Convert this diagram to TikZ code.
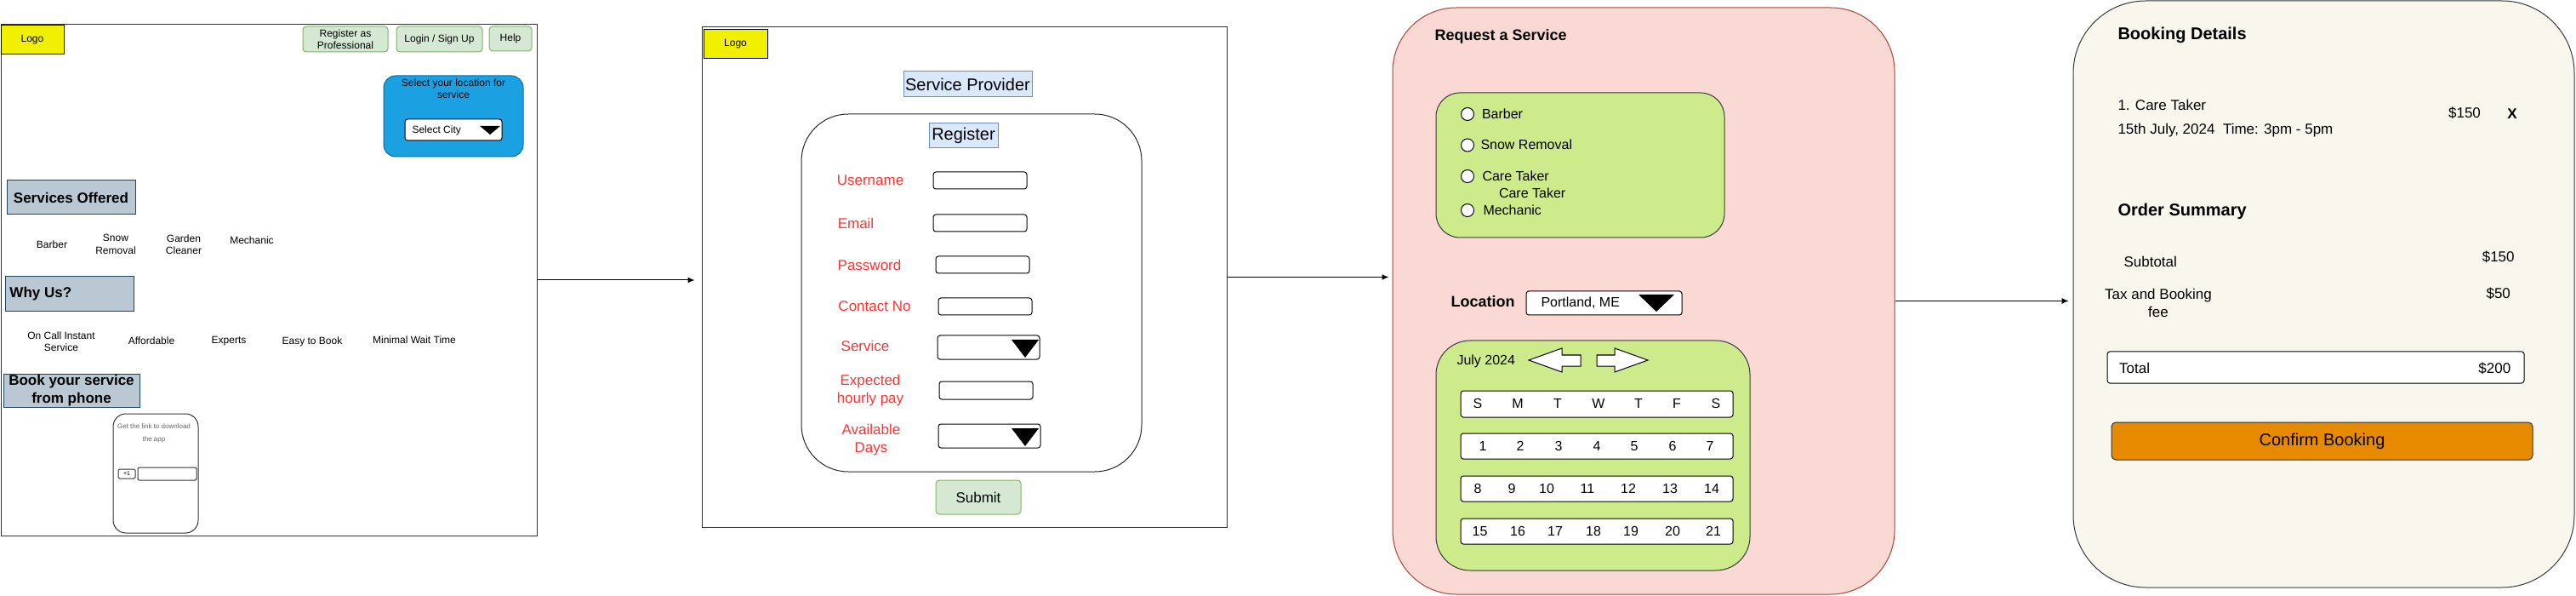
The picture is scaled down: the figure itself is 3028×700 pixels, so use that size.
\documentclass[tikz,border=0pt]{standalone}
\usepackage{fontspec}
\setmainfont{Liberation Sans}
\usetikzlibrary{arrows.meta}

\definecolor{logoyellow}{HTML}{F0F000}
\definecolor{btnfill}{HTML}{D5E8D4}
\definecolor{btnline}{HTML}{82B366}
\definecolor{locfill}{HTML}{1BA1E2}
\definecolor{locline}{HTML}{006EAF}
\definecolor{headfill}{HTML}{BAC8D3}
\definecolor{headline}{HTML}{23445D}
\definecolor{titlefill}{HTML}{DAE8FC}
\definecolor{titleline}{HTML}{6C8EBF}
\definecolor{pinkfill}{HTML}{FAD9D5}
\definecolor{pinkline}{HTML}{AE4132}
\definecolor{limefill}{HTML}{CDEB8B}
\definecolor{darkline}{HTML}{36393D}
\definecolor{creamfill}{HTML}{F9F7ED}
\definecolor{confirmfill}{HTML}{E88A00}
\definecolor{formred}{HTML}{FF3333}

\tikzset{
	f7/.style={font=\fontsize{7}{8.4}\selectfont},
	f8/.style={font=\fontsize{8}{15}\selectfont, text=black!60},
	f12/.style={font=\fontsize{12}{14.4}\selectfont},
	f16/.style={font=\fontsize{16}{19.2}\selectfont},
	f17/.style={font=\fontsize{17}{21}\selectfont},
	f20/.style={font=\fontsize{20}{24}\selectfont},
	b17/.style={font=\fontsize{17}{21}\bfseries\selectfont},
	b18/.style={font=\fontsize{18}{21.6}\bfseries\selectfont},
	b20/.style={font=\fontsize{20}{24}\bfseries\selectfont},
	redlabel/.style={f17, text=formred},
	panel/.style={draw=black!80},
	logobox/.style={draw, fill=logoyellow, f12},
	navbtn/.style={draw=btnline, fill=btnfill, rounded corners=4pt, f12},
	locbox/.style={draw=locline, fill=locfill, rounded corners=14pt},
	field/.style={draw, fill=white, rounded corners=3pt},
	headbox/.style={draw=headline, fill=headfill, b17},
	phonebox/.style={draw=black!80, rounded corners=15pt},
	smallbox/.style={draw=black!80, rounded corners=1.5pt, f7},
	titlebox/.style={draw=titleline, fill=titlefill, f20},
	formcard/.style={draw=black!85, rounded corners=55pt},
	pinkcard/.style={draw=pinkline, fill=pinkfill, rounded corners=75pt},
	greencard/.style={draw=darkline, fill=limefill},
	radio/.style={draw, fill=white, circle, minimum size=15pt},
	rowbox/.style={draw, fill=white, rounded corners=3pt},
	creamcard/.style={draw=darkline, fill=creamfill, rounded corners=85pt},
	confirmbtn/.style={draw=black!80, fill=confirmfill, rounded corners=5pt, f20},
	flow/.style={-{Latex[length=8pt,width=7pt]}},
}
\def\uibox[#1](#2)(#3,#4)(#5,#6)#7{\node[#1, minimum width={(#5)-(#3)}, minimum height={(#6)-(#4)}] (#2) at ({((#3)+(#5))/2},{((#4)+(#6))/2}) {#7};}

\begin{document}
\begin{tikzpicture}[x=1pt, y=-1pt, line width=1pt, every node/.style={inner sep=0pt, align=center}]
			\useasboundingbox (0,0) rectangle (3028,700);
			
			%%%%% HOME PAGE %%%%%
			
			\uibox[panel](home)(1,29)(631,629){}
			\uibox[logobox](logoA)(1,30)(75,64){Logo}
			\uibox[navbtn](regpro)(356,31)(456,61){Register as\\Professional}
			\uibox[navbtn](login)(466,31)(567,61){Login / Sign Up}
			\uibox[navbtn](help)(575,31)(625,60){Help}
			
			\uibox[locbox](locsel)(451,89)(615,184){}
			\node[f12] (loctext) at (533,104.5) {Select your location for\\service};
			\uibox[field](city)(476,140)(590,165){}
			\node[f12, anchor=west] (citytext) at (484,153) {Select City};
			\fill (564,148) -- (588,148) -- (576,158) -- cycle;
			
			\uibox[headbox](svchead)(8,212)(159,252){Services Offered}
			\node[f12] (barberA) at (61,287) {Barber};
			\node[f12] (snowA) at (136,287) {Snow\\Removal};
			\node[f12] (garden) at (216,287) {Garden\\Cleaner};
			\node[f12] (mechA) at (296,282) {Mechanic};
			
			\uibox[headbox](whyhead)(6,325)(157,366){}
			\node[b17, anchor=west] (whytext) at (11,345) {Why Us?};
			\node[f12] (oncall) at (72,401) {On Call Instant\\Service};
			\node[f12] (afford) at (178,400) {Affordable};
			\node[f12] (experts) at (269,401) {Experts};
			\node[f12] (easy) at (367,401) {Easy to Book};
			\node[f12] (minwait) at (487,399) {Minimal Wait Time};
			
			\uibox[headbox](bookhead)(4,439)(164,478){Book your service\\from phone}
			\uibox[phonebox](phone)(133,486)(233,626){}
			\node[f8] (applink) at (181,508.5) {Get the link to download\\the app};
			\uibox[smallbox](cc)(139,551)(159,562){+1}
			\uibox[smallbox](num)(162,549)(231,564){}
			
			%%%%% SERVICE PROVIDER %%%%%
			
			\uibox[panel](prov)(825,32)(1442,619){}
			\uibox[logobox](logoB)(827,35)(902,69){Logo}
			\uibox[titlebox](sp)(1062,84)(1213,114){Service Provider}
			\uibox[formcard](form)(942,134)(1342,554){}
			\uibox[titlebox](reg)(1092,144.5)(1173,174){Register}
			
			\node[redlabel] (userl) at (1023,212) {Username};
			\node[redlabel] (maill) at (1006,262) {Email};
			\node[redlabel] (passl) at (1022,311) {Password};
			\node[redlabel] (contl) at (1028,360) {Contact No};
			\node[redlabel] (servl) at (1017,406) {Service};
			\node[redlabel] (payl) at (1023,459) {Expected\\hourly pay};
			\node[redlabel] (daysl) at (1024,517) {Available\\Days};
			
			\uibox[field](userf)(1097,202)(1207,222){}
			\uibox[field](mailf)(1097,252)(1207,272){}
			\uibox[field](passf)(1100,301)(1210,321){}
			\uibox[field](contf)(1103,350)(1213,370){}
			\uibox[field](servf)(1102,394)(1222,422){}
			\fill (1189,399) -- (1221,399) -- (1205,420) -- cycle;
			\uibox[field](payf)(1104,448)(1214,469){}
			\uibox[field](daysf)(1103,498)(1223,526){}
			\fill (1189,503) -- (1221,503) -- (1205,524) -- cycle;
			
			\uibox[navbtn, f17](submit)(1100,564)(1200,604){Submit}
			
			%%%%% REQUEST A SERVICE %%%%%
			
			\uibox[pinkcard](req)(1637,9)(2227,698){}
			\node[b18, anchor=west] (reqtitle) at (1686,43) {Request a Service};
			
			\uibox[greencard, rounded corners=28pt](svcs)(1688,109)(2027,279){}
			\node[radio] (rb1) at (1725,134) {};
			\node[radio] (rb2) at (1725,170.5) {};
			\node[radio] (rb3) at (1725,207) {};
			\node[radio] (rb4) at (1725,247) {};
			\node[f16, anchor=west] (barberB) at (1741.5,134) {Barber};
			\node[f16, anchor=west] (snowB) at (1740,170) {Snow Removal};
			\node[f16, anchor=west] (careA) at (1742,207) {Care Taker};
			\node[f16, anchor=west] (careB) at (1761.5,227) {Care Taker};
			\node[f16, anchor=west] (mechB) at (1743,247) {Mechanic};
			
			\node[b18, anchor=west] (loclabel) at (1705,354) {Location};
			\uibox[field](locf)(1794,342)(1977,370){}
			\node[f16, anchor=west] (portland) at (1811,356) {Portland, ME};
			\fill (1926,346) -- (1968,346) -- (1947,366) -- cycle;
			
			\uibox[greencard, rounded corners=40pt](cal)(1688,400)(2057,670){}
			\node[f16, anchor=west] (month) at (1712,424) {July 2024};
			\draw[fill=white] (1797,423) -- (1836,409) -- (1836,417) -- (1858,417) -- (1858,430) -- (1836,430) -- (1836,437) -- cycle;
			\draw[fill=white] (1937,423) -- (1898,409) -- (1898,417) -- (1877,417) -- (1877,430) -- (1898,430) -- (1898,437) -- cycle;
			
			\uibox[rowbox](r0)(1717,459)(2037,490){}
			\uibox[rowbox](r1)(1717,509)(2037,539){}
			\uibox[rowbox](r2)(1717,559)(2037,589){}
			\uibox[rowbox](r3)(1717,609)(2037,639){}
			\foreach \x/\t [count=\i] in {1737/S,1784/M,1831/T,1879/W,1926/T,1971/F,2017/S}
				\node[f16] (wd\i) at (\x,474) {\t};
			\foreach \x/\t in {1743/1,1787/2,1832/3,1877/4,1921/5,1966/6,2010/7,1737/8,1777/9,1818/10,1866/11,1914/12,1963/13,2012/14,1739.5/15,1784/16,1828/17,1873/18,1917/19,1966/20,2014/21}
				\pgfmathsetmacro\dy{524+50*int((\t-1)/7)}
				\node[f16] (day\t) at (\x,\dy) {\t};
			
			%%%%% BOOKING DETAILS %%%%%
			
			\uibox[creamcard](booking)(2437,1)(3026,690){}
			\node[b20, anchor=west] (bktitle) at (2489,41.5) {Booking Details};
			\node[f17, anchor=west] (item) at (2489,123.3) {1. Care Taker};
			\node[f17, anchor=west] (when) at (2489,153.3) {15th July, 2024\ \ Time: 3pm - 5pm};
			\node[f17] (itemprice) at (2897,133.3) {\$150};
			\node[b17] (remove) at (2953,133.3) {X};
			
			\node[b20, anchor=west] (ordtitle) at (2489,248.7) {Order Summary};
			\node[f17] (subl) at (2527.7,307.7) {Subtotal};
			\node[f17] (subv) at (2936.7,301.7) {\$150};
			\node[f17] (taxl) at (2537,356) {Tax and Booking\\fee};
			\node[f17] (taxv) at (2936.7,344.3) {\$50};
			
			\uibox[rowbox](total)(2477,413)(2967,450){}
			\node[f17, anchor=west] (totall) at (2490.7,432.5) {Total};
			\node[f17, anchor=east] (totalv) at (2951.7,432.5) {\$200};
			\uibox[confirmbtn](confirm)(2482,496)(2977,540){Confirm Booking}
			
			%%%%% FLOW %%%%%
			
			\draw[flow, shorten >=8pt] (home.east) -- (home.east -| prov.west);
			\draw[flow, shorten >=4pt] (prov.east) -- (prov.east -| req.west);
			\draw[flow, shorten >=5pt] (req.east) -- (req.east -| booking.west);
\end{tikzpicture}
\end{document}
